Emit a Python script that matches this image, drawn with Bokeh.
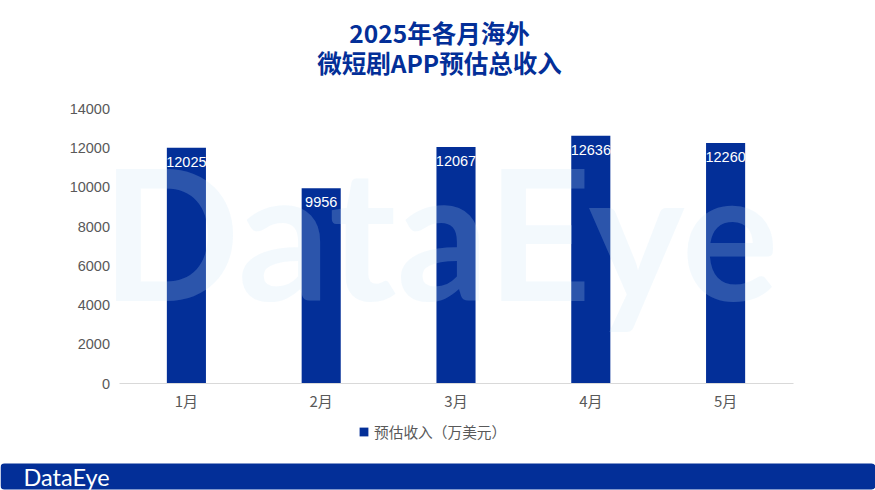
from bokeh.embed import file_html
from bokeh.resources import INLINE
from bokeh.core.properties import value
from bokeh.plotting import figure
from bokeh.models import (ColumnDataSource, Range1d, Label, LabelSet, BoxAnnotation,
                          FixedTicker, Legend, LegendItem, LinearAxis)

months = ["1月", "2月", "3月", "4月", "5月"]
revenue = [12025, 9956, 12067, 12636, 12260]
y_ticks = [0, 2000, 4000, 6000, 8000, 10000, 12000, 14000]
series_name = "预估收入（万美元）"
title_lines = ["2025年各月海外", "微短剧APP预估总收入"]

BLUE = "#032f98"
GREY = "#595959"
LATIN = "'Liberation Sans'"
CJK = "'Noto Sans CJK SC'"
W, H = 875, 490

# plot area in page pixels
LEFT, RIGHT, TOP_PX, BASE_PX = 118.5, 792.5, 108.5, 383.0
n = len(months)
step = (RIGHT - LEFT) / n
x0 = -0.5 - LEFT / step
ypx = (BASE_PX - TOP_PX) / y_ticks[-1]
pos = list(range(n))

src = ColumnDataSource(dict(x=pos, v=revenue, t=[str(v) for v in revenue]))
p = figure(width=W, height=H, output_backend="svg", toolbar_location=None,
           x_range=Range1d(x0, x0 + W / step),
           y_range=Range1d(-(H - BASE_PX) / ypx, y_ticks[-1] + TOP_PX / ypx),
           x_axis_location=None, y_axis_location=None, min_border=0,
           outline_line_color=None, background_fill_color="white", border_fill_color="white")
p.grid.visible = False
bars = p.vbar(x="x", top="v", width=0.29, bottom=0, source=src, fill_color=BLUE, line_color=None)

yaxis = LinearAxis(ticker=FixedTicker(ticks=y_ticks), fixed_location=-0.5, bounds=(0, y_ticks[-1]),
                   axis_line_color=None, major_tick_line_color=None, minor_tick_line_color=None,
                   major_label_text_color=GREY, major_label_text_font=LATIN,
                   major_label_text_font_size="14.5px", major_label_standoff=3)
xaxis = LinearAxis(ticker=FixedTicker(ticks=pos), fixed_location=0, bounds=(-0.5, n - 0.5),
                   major_label_overrides={i: m for i, m in zip(pos, months)},
                   axis_line_color="#d9d9d9", major_tick_line_color=None, minor_tick_line_color=None,
                   major_label_text_color=GREY, major_label_text_font=CJK,
                   major_label_text_font_size="15px", major_label_standoff=0)
p.add_layout(yaxis, "left")
p.add_layout(xaxis, "below")

# watermark
p.add_layout(Label(x=101, y=H - 230, x_units="screen", y_units="screen", text="DataEye",
                   text_font="Lato", text_font_size="182px", text_font_style="bold",
                   text_color="#c7e1f5", text_alpha=0.21, text_baseline="middle"))

p.add_layout(LabelSet(x="x", y="v", text="t", source=src, y_offset=-9, text_align="center",
                      text_baseline="top", text_color="white", text_font=value("Liberation Sans"),
                      text_font_size="14.5px"))

# title
for line, cy in zip(title_lines, [32, 62]):
    p.add_layout(Label(x=439, y=H - cy, x_units="screen", y_units="screen", text=line,
                       text_align="center", text_baseline="middle", text_font=CJK,
                       text_font_size="24.5px", text_font_style="bold", text_color=BLUE))

# legend
leg = Legend(items=[LegendItem(label=series_name, renderers=[bars])], location=(358, H - 442),
             orientation="horizontal", border_line_color=None, background_fill_alpha=0,
             label_text_color=GREY, label_text_font=CJK, label_text_font_size="14.7px",
             glyph_width=11, glyph_height=11, label_standoff=5, padding=0, margin=0)
p.add_layout(leg, "center")

# footer band
p.add_layout(BoxAnnotation(left=0, right=W, top=H - 463, bottom=1,
                           left_units="screen", right_units="screen",
                           top_units="screen", bottom_units="screen",
                           fill_color=BLUE, fill_alpha=1, line_color=None, border_radius=4))
p.add_layout(Label(x=23, y=H - 476, x_units="screen", y_units="screen", text="DataEye",
                   text_font="Lato", text_font_size="23.5px", text_color="white",
                   text_baseline="middle"))

open("out.html", "w").write(file_html(p, INLINE))
